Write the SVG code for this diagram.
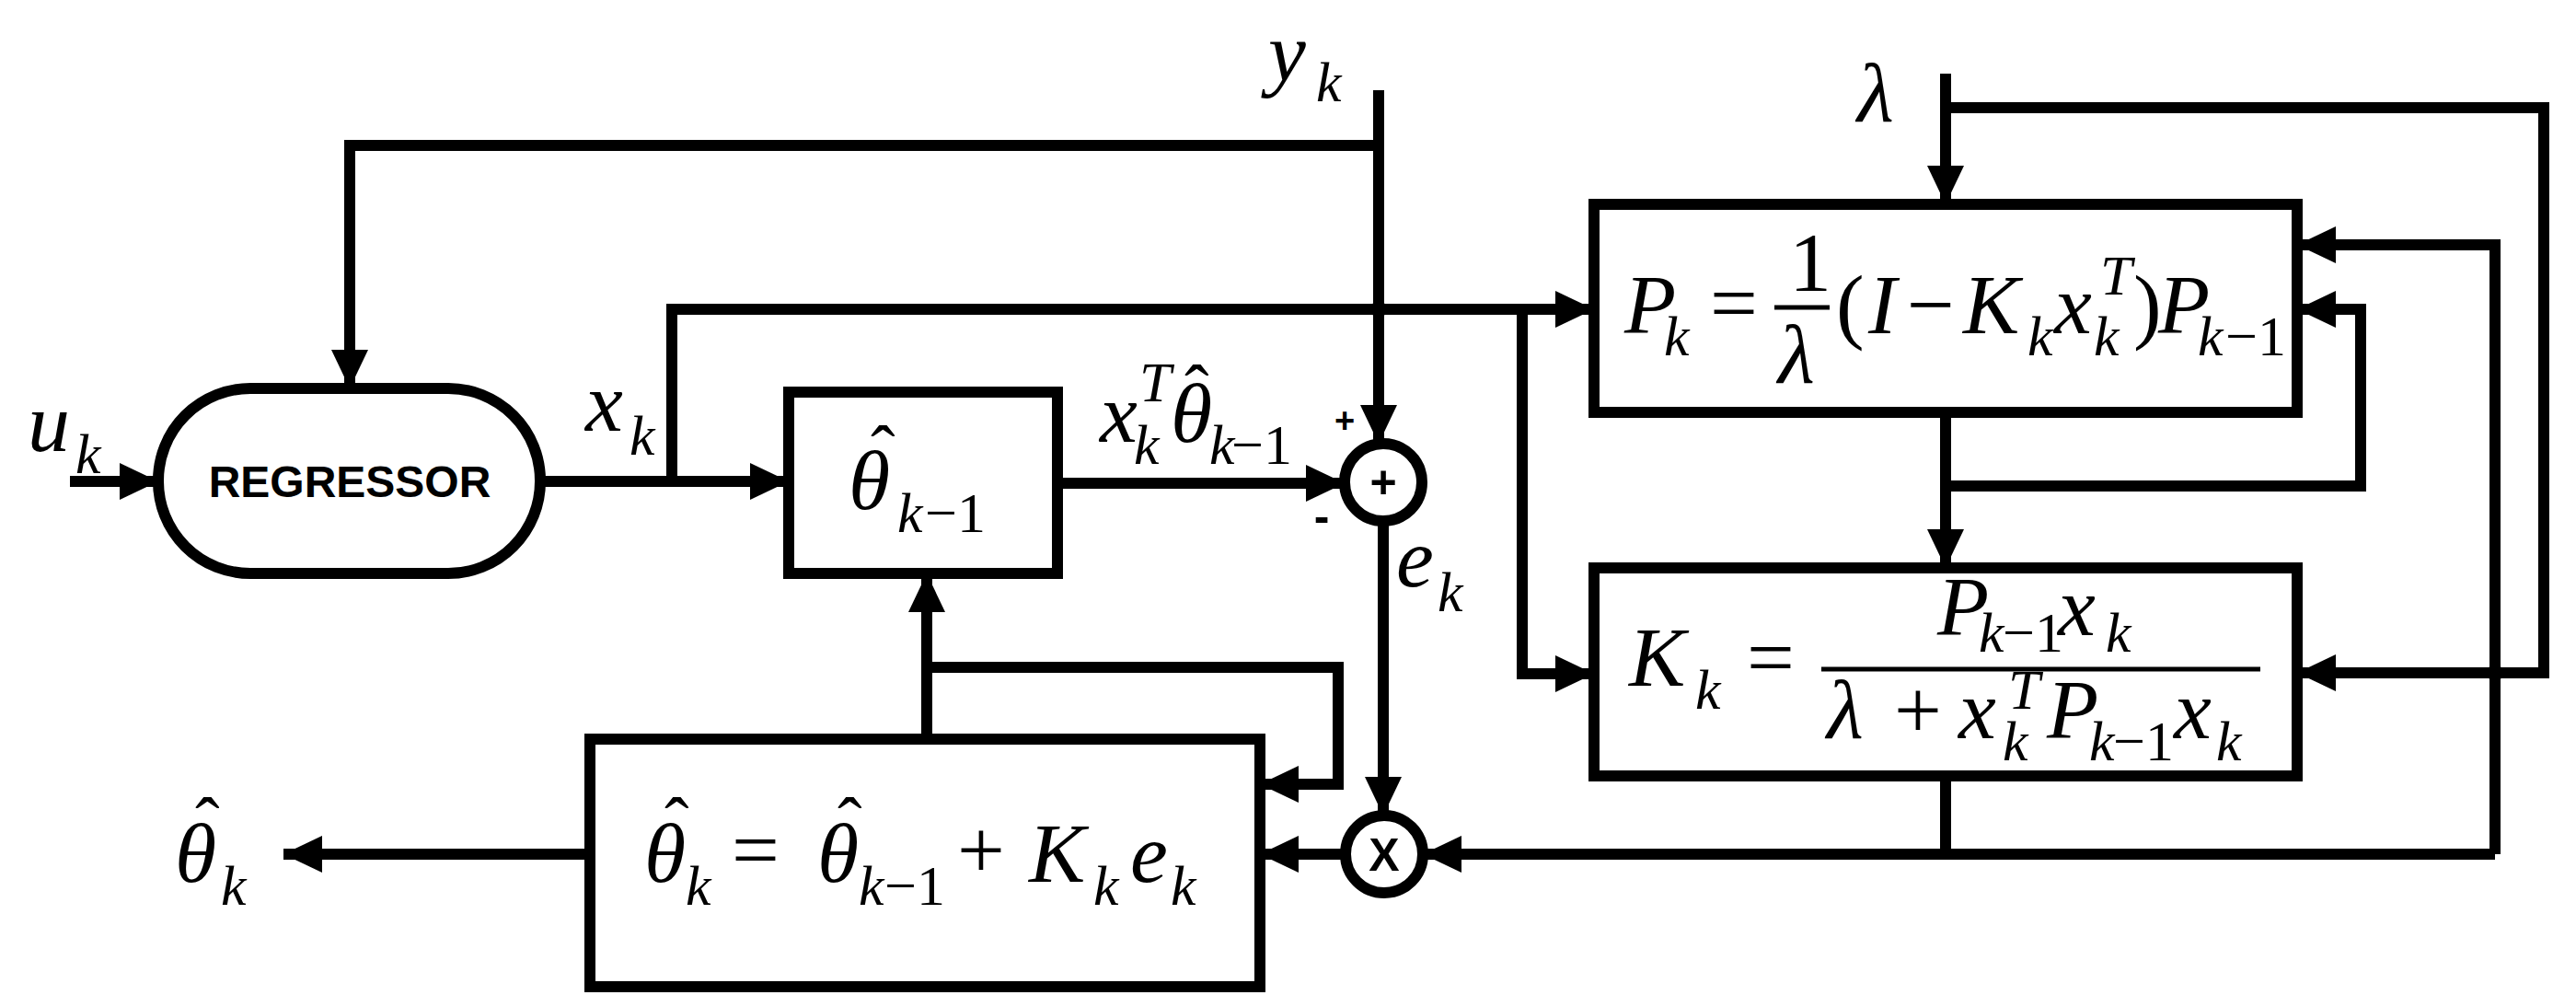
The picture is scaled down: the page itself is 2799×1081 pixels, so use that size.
<svg xmlns="http://www.w3.org/2000/svg" width="2799" height="1081" viewBox="0 0 2799 1081">
<style>
.ln{fill:none;stroke:#000;stroke-width:12;stroke-linejoin:miter}
.bx{fill:#fff;stroke:#000;stroke-width:12}
.m{font-family:'Liberation Serif','Times New Roman','DejaVu Serif',serif;font-style:italic;font-size:92px;fill:#000}
.s{font-family:'Liberation Serif','Times New Roman','DejaVu Serif',serif;font-style:italic;font-size:62px;fill:#000}
.r{font-family:'Liberation Serif','Times New Roman','DejaVu Serif',serif;font-size:92px;fill:#000}
.rs{font-family:'Liberation Serif','Times New Roman','DejaVu Serif',serif;font-size:62px;fill:#000}
.h{font-family:'Liberation Serif','Times New Roman','DejaVu Serif',serif;font-size:80px;fill:#000}
.b{font-family:'Liberation Sans',Arial,sans-serif;font-weight:bold;fill:#000}
</style>
<defs>
<marker id="a" markerUnits="userSpaceOnUse" markerWidth="44" markerHeight="44" refX="42" refY="20" orient="auto"><path d="M0,0 L42,20 L0,40 Z" fill="#000"/></marker>
</defs>
<g id="connectors">
<path class="ln" d="M76,523 H172" marker-end="url(#a)"/>
<path class="ln" d="M1498,98 V482" marker-end="url(#a)"/>
<path class="ln" d="M1498,158 H380 V422" marker-end="url(#a)"/>
<path class="ln" d="M587,523 H857" marker-end="url(#a)"/>
<path class="ln" d="M730,523 V336 H1732" marker-end="url(#a)"/>
<circle cx="1498" cy="336" r="9" fill="#000"/>
<path class="ln" d="M1654,336 V732 H1732" marker-end="url(#a)"/>
<path class="ln" d="M1149,525 H1461" marker-end="url(#a)"/>
<path class="ln" d="M1503,566 V886" marker-end="url(#a)"/>
<path class="ln" d="M1007,803 V623" marker-end="url(#a)"/>
<path class="ln" d="M1007,725 H1454 V852 H1369" marker-end="url(#a)"/>
<path class="ln" d="M1462,928 H1369" marker-end="url(#a)"/>
<path class="ln" d="M641,928 H308" marker-end="url(#a)"/>
<path class="ln" d="M2114,80 V222" marker-end="url(#a)"/>
<path class="ln" d="M2114,117 H2764 V731 H2496" marker-end="url(#a)"/>
<circle cx="2711" cy="731" r="9" fill="#000"/>
<path class="ln" d="M2114,448 V617" marker-end="url(#a)"/>
<path class="ln" d="M2114,528 H2565 V336 H2496" marker-end="url(#a)"/>
<path class="ln" d="M2711,928 V266 H2496" marker-end="url(#a)"/>
<path class="ln" d="M2114,843 V928"/>
<path class="ln" d="M2711,928 H1546" marker-end="url(#a)"/>
</g>
<g id="regressor">
<rect class="bx" x="172" y="422" width="415" height="201" rx="100" ry="100"/>
<text class="b" x="380" y="540" font-size="48" text-anchor="middle">REGRESSOR</text>
</g>
<g id="theta_prev">
<rect class="bx" x="857" y="426" width="292" height="197"/>
<text class="m" x="922" y="553" font-size="105">θ</text>
<text class="h" x="946" y="518">ˆ</text>
<text class="s" x="975" y="578">k</text><text class="rs" x="1005" y="578">−1</text>
</g>
<g id="sum">
<circle class="bx" cx="1503" cy="524" r="42"/>
<text class="b" x="1503" y="541" font-size="50" text-anchor="middle">+</text>
<text class="b" x="1461" y="470" font-size="38" text-anchor="middle">+</text>
<text class="b" x="1436" y="578" font-size="50" text-anchor="middle">-</text>
</g>
<g id="mult">
<circle class="bx" cx="1504" cy="928" r="42"/>
<text class="b" x="1504" y="946" font-size="50" text-anchor="middle">X</text>
</g>
<g id="update">
<rect class="bx" x="641" y="803" width="728" height="269"/>
<text class="m" x="700" y="958" font-size="100">θ</text><text class="h" x="722" y="922">ˆ</text>
<text class="s" x="745" y="983">k</text>
<text class="r" x="795" y="954">=</text>
<text class="m" x="888" y="958" font-size="100">θ</text><text class="h" x="910" y="922">ˆ</text>
<text class="s" x="933" y="983">k</text><text class="rs" x="961" y="983">−1</text>
<text class="r" x="1040" y="954">+</text>
<text class="m" x="1118" y="958">K</text>
<text class="s" x="1188" y="983">k</text>
<text class="m" x="1228" y="958">e</text>
<text class="s" x="1272" y="983">k</text>
</g>
<g id="P">
<rect class="bx" x="1732" y="222" width="764" height="226"/>
<text class="m" x="1765" y="362">P</text><text class="s" x="1808" y="386">k</text>
<text class="r" x="1858" y="360">=</text>
<text class="r" x="1944" y="316" font-size="80">1</text>
<path d="M1928,334 H1988" stroke="#000" stroke-width="5"/>
<text class="m" x="1932" y="416" font-size="80">λ</text>
<text class="r" x="1995" y="362">(</text>
<text class="m" x="2030" y="362">I</text>
<text class="r" x="2072" y="362">−</text>
<text class="m" x="2133" y="362">K</text><text class="s" x="2203" y="386">k</text>
<text class="m" x="2232" y="362">x</text><text class="s" x="2282" y="320" font-size="48">T</text><text class="s" x="2275" y="386">k</text>
<text class="r" x="2318" y="362">)</text>
<text class="m" x="2345" y="362">P</text><text class="s" x="2388" y="386">k</text><text class="rs" x="2418" y="386">−1</text>
</g>
<g id="K">
<rect class="bx" x="1732" y="617" width="764" height="226"/>
<text class="m" x="1770" y="745">K</text><text class="s" x="1842" y="770">k</text>
<text class="r" x="1898" y="745">=</text>
<text class="m" x="2105" y="690">P</text><text class="s" x="2150" y="708" font-size="54">k</text><text class="rs" x="2176" y="708" font-size="54">−1</text>
<text class="m" x="2236" y="690">x</text><text class="s" x="2288" y="708" font-size="54">k</text>
<path d="M1979,727 H2456" stroke="#000" stroke-width="5"/>
<text class="m" x="1985" y="802">λ</text>
<text class="r" x="2058" y="802">+</text>
<text class="m" x="2128" y="802">x</text><text class="s" x="2182" y="770" font-size="44">T</text><text class="s" x="2176" y="826" font-size="54">k</text>
<text class="m" x="2224" y="802">P</text><text class="s" x="2270" y="826" font-size="54">k</text><text class="rs" x="2296" y="826" font-size="54">−1</text>
<text class="m" x="2362" y="802">x</text><text class="s" x="2408" y="826" font-size="54">k</text>
</g>
<g id="labels">
<text class="m" x="30" y="490" font-size="100">u</text><text class="s" x="82" y="514">k</text>
<text class="m" x="636" y="468">x</text><text class="s" x="684" y="494">k</text>
<text class="m" x="1195" y="480" font-size="75">x</text><text class="s" x="1238" y="436" font-size="40">T</text><text class="s" x="1232" y="504" font-size="46">k</text>
<text class="m" x="1272" y="480" font-size="78">θ</text><text class="h" x="1287" y="452" font-size="60">ˆ</text>
<text class="s" x="1314" y="504" font-size="46">k</text><text class="rs" x="1338" y="504" font-size="46">−1</text>
<text class="m" x="1378" y="88">y</text><text class="s" x="1430" y="110">k</text>
<text class="m" x="1517" y="637">e</text><text class="s" x="1562" y="664">k</text>
<text class="m" x="2018" y="132" font-size="120">λ</text>
<text class="m" x="190" y="958" font-size="100">θ</text><text class="h" x="212" y="922">ˆ</text><text class="s" x="240" y="983">k</text>
</g>
</svg>
